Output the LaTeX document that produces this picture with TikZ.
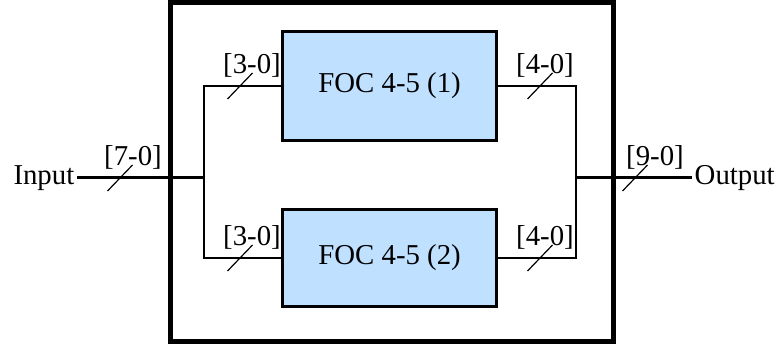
\documentclass[tikz,border=0pt]{standalone}
\usepackage{fontspec}
\setmainfont{Liberation Serif}
\usetikzlibrary{positioning}
\definecolor{FocBlue}{HTML}{BFE0FF}
\definecolor{FocDark}{HTML}{000000}
\tikzset{
  focbox/.style={draw=FocDark,line width=3pt,fill=FocBlue,minimum width=214pt,inner sep=0pt},
  frame/.style={draw=FocDark,line width=5pt},
  busline/.style={draw=FocDark,line width=3pt},
  thinline/.style={draw=FocDark,line width=1.4pt},
  busmark/.style={draw=FocDark,line width=1.2pt},
  buslabel/.style={inner sep=0pt},
  ioname/.style={inner sep=2.5pt}
}

\begin{document}
\begin{tikzpicture}[x=1pt,y=-1pt,font=\fontsize{28.8}{32}\selectfont]
\useasboundingbox (0,0) rectangle (784,347);
% enclosing block
\draw[frame] (170,2.5) rectangle (613,341);
% the two FOC units
\node[focbox,minimum height=109pt] (foc1) at (389.6,86) {FOC 4-5 (1)};
\node[focbox,minimum height=96pt] (foc2) at (389.6,258) {FOC 4-5 (2)};
\node[ioname,anchor=east] (in) at (77,178) {Input};
\node[ioname,anchor=west] (out) at (692,178) {Output};
% split and merge points
\coordinate (split) at (204,178);
\coordinate (merge) at (576,178);
\draw[busline] (in.east) -- (split);
\draw[thinline] (foc1.west) -| (split);
\draw[thinline] (foc2.west) -| (split);
\draw[thinline] (foc1.east) -| (merge);
\draw[thinline] (foc2.east) -| (merge);
\draw[busline] (merge) -- (out.west);
% bus width marks
\foreach \mx/\my/\dx/\lbl [count=\i] in {120/178/13/{[7-0]},240/86/12/{[3-0]},240/258/12/{[3-0]},
    540/86/5/{[4-0]},540/258/5/{[4-0]},635/178/20/{[9-0]}}{
  \draw[busmark] (\mx,\my) ++(-12.5,13) -- ++(25,-26);
  \node[buslabel] (bus\i) at (\mx+\dx,\my-21) {\lbl};
}
\end{tikzpicture}
\end{document}
